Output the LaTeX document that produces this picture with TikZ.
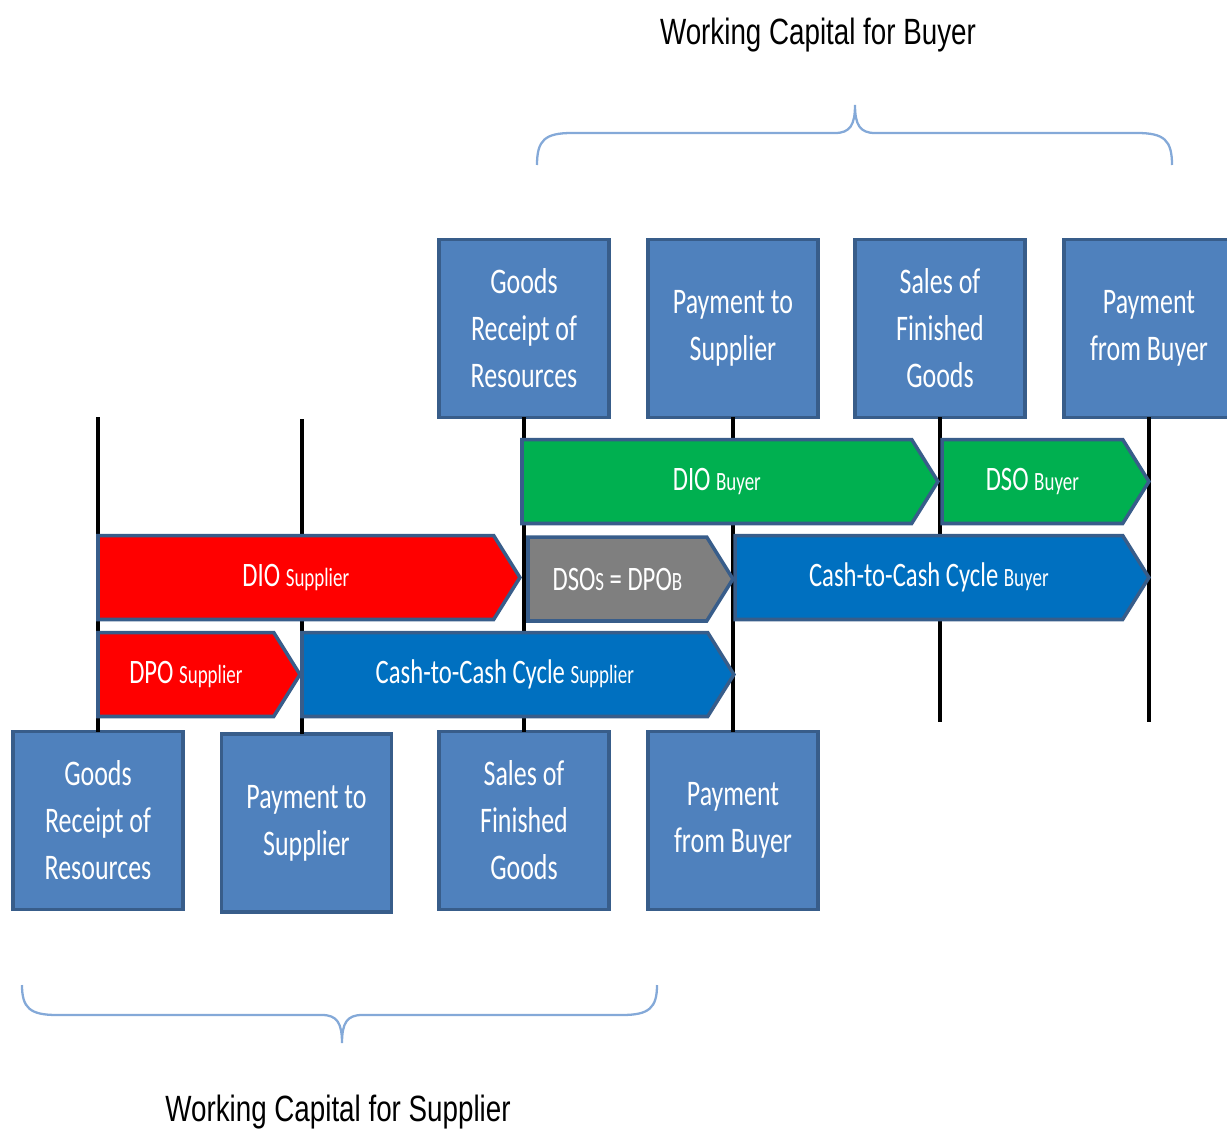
\documentclass[tikz,border=0pt]{standalone}
\usepackage{fontspec}
\setmainfont{Carlito}[FakeStretch=0.72]
\newfontfamily\titlefont{Liberation Sans}[FakeStretch=0.76]
\usetikzlibrary{positioning,shapes.symbols}

\definecolor{boxfill}{HTML}{4F81BD}
\definecolor{boxline}{HTML}{385D8A}
\definecolor{bandgreen}{HTML}{00B050}
\definecolor{bandred}{HTML}{FF0000}
\definecolor{bandgray}{HTML}{7F7F7F}
\definecolor{bandblue}{HTML}{0070C0}
\definecolor{braceblue}{HTML}{84A9D8}

\tikzset{
  event/.style={draw=boxline, fill=boxfill, line width=2.2pt, minimum width=3.4cm,
    minimum height=3.56cm, inner sep=0pt, outer sep=0pt, text=white, align=center,
    font=\fontsize{20.5}{26.7}\selectfont},
  band/.style={signal, signal to=east, signal pointer angle=116, draw=boxline,
    line width=2pt, minimum height=1.68cm, inner sep=0pt, outer sep=0pt,
    anchor=west, text=white, font=\fontsize{19.5}{22}\selectfont},
  timeline/.style={black, line width=2.2pt},
  wcbrace/.style={draw=braceblue, line width=1.3pt},
  wctitle/.style={font=\titlefont\fontsize{20.8}{24}\selectfont}
}
\newcommand{\sm}[1]{{\fontsize{15}{17}\selectfont #1}}

\begin{document}
\begin{tikzpicture}[x=0.02cm, y=-0.02cm]
  \useasboundingbox (0,0) rectangle (1227,1136);

  % Events of the buyer (top row)
  \node[event] (A1) at (524,328.5) {Goods\\Receipt of\\Resources};
  \node[event] (A2) at (733,328.5) {Payment to\\Supplier};
  \node[event] (A3) at (940,328.5) {Sales of\\Finished\\Goods};
  \node[event] (A4) at (1149,328.5) {Payment\\from Buyer};

  % Events of the supplier (bottom row)
  \node[event] (B1) at (98,820.5) {Goods\\Receipt of\\Resources};
  \node[event] (B2) at (306.5,823) {Payment to\\Supplier};
  \node[event] (B3) at (524,820.5) {Sales of\\Finished\\Goods};
  \node[event] (B4) at (733,820.5) {Payment\\from Buyer};

  % Time lines
  \coordinate (t1) at (98,417);
  \coordinate (t2) at (302,419);
  \coordinate (e3) at (940,722);
  \coordinate (e4) at (1149,722);
  \draw[timeline] (t1) -- (B1.north);
  \draw[timeline] (t2) -- (t2 |- B2.north);
  \draw[timeline] (A1.south) -- (B3.north);
  \draw[timeline] (A2.south) -- (B4.north);
  \draw[timeline] (A3.south) -- (e3);
  \draw[timeline] (A4.south) -- (e4);

  % Periods
  \node[band, fill=bandgreen, minimum width=8.32cm] (dioB) at (522,481.5) {DIO \sm{Buyer}};
  \node[band, fill=bandgreen, minimum width=4.14cm] (dsoB) at (942,481.5) {DSO \sm{Buyer}};
  \node[band, fill=bandred, minimum width=8.44cm] (dioS) at (98,577.5) {DIO \sm{Supplier}};
  \node[band, fill=bandgray, minimum width=4.1cm] (dsoS) at (528,579) {DSO\sm{S} = DPO\sm{B}};
  \node[band, fill=bandblue, minimum width=8.28cm] (c2cB) at (735,577.5) {Cash-to-Cash Cycle \sm{Buyer}};
  \node[band, fill=bandred, minimum width=4.04cm] (dpoS) at (98,674.5) {DPO \sm{Supplier}};
  \node[band, fill=bandblue, minimum width=8.64cm] (c2cS) at (302,674.5) {Cash-to-Cash Cycle \sm{Supplier}};

  % Braces
  \draw[wcbrace] (537,165) .. controls (537,140) and (545,133) .. (572,133) -- (835,133)
    .. controls (850,133) and (855,125) .. (855,105)
    .. controls (855,125) and (860,133) .. (875,133) -- (1137,133)
    .. controls (1164,133) and (1172,140) .. (1172,165);
  \draw[wcbrace] (22,985) .. controls (22,1008) and (30,1015) .. (57,1015) -- (322,1015)
    .. controls (337,1015) and (342,1023) .. (342,1043)
    .. controls (342,1023) and (347,1015) .. (362,1015) -- (622,1015)
    .. controls (649,1015) and (657,1008) .. (657,985);

  % Titles
  \node[wctitle] (wcB) at (818,35) {Working Capital for Buyer};
  \node[wctitle] (wcS) at (338,1112) {Working Capital for Supplier};
\end{tikzpicture}
\end{document}
